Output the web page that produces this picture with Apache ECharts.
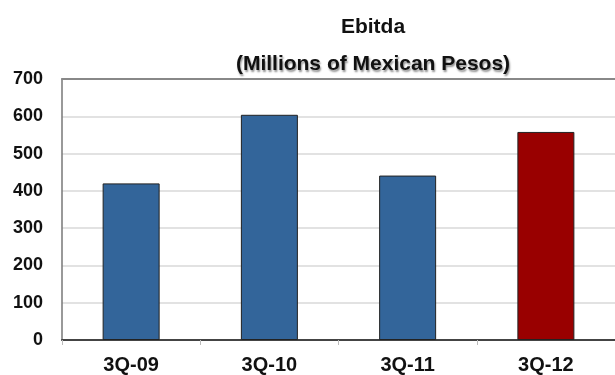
<!DOCTYPE html>
<html>
<head>
<meta charset="utf-8">
<script src="https://cdn.jsdelivr.net/npm/echarts@6/dist/echarts.min.js"></script>
<style>
  html, body { margin: 0; padding: 0; background: #fff; }
  #main { width: 615px; height: 375px; }
</style>
</head>
<body>
<div id="main"></div>
<script>
// data
var quarters = ['3Q-09', '3Q-10', '3Q-11', '3Q-12'];
var ebitda = [420, 604, 441, 558];
var barColors = ['#33659a', '#33659a', '#33659a', '#990000'];
var yTicks = [0, 100, 200, 300, 400, 500, 600, 700];

var myChart = echarts.init(document.getElementById('main'));
var font = 'Liberation Sans, Arial, sans-serif';

myChart.setOption({
  animation: false,
  backgroundColor: '#fff',
  title: [{
    text: 'Ebitda',
    left: 368, top: 12,
    textAlign: 'center',
    textStyle: { fontFamily: font, fontSize: 21, fontWeight: 'bold', color: '#111' }
  }, {
    text: '(Millions of Mexican Pesos)',
    left: 368, top: 49,
    textAlign: 'center',
    textStyle: {
      fontFamily: font, fontSize: 21, fontWeight: 'bold', color: '#111',
      textShadowColor: 'rgba(0,0,0,0.45)', textShadowBlur: 2, textShadowOffsetX: 1, textShadowOffsetY: 2
    }
  }],
  grid: { left: 62, right: -5, top: 79, bottom: 34 },
  xAxis: [{
    type: 'category',
    data: quarters,
    axisLine: { lineStyle: { color: '#444', width: 2 } },
    axisTick: { show: true, length: 5, lineStyle: { color: '#bbb' } },
    axisLabel: { margin: 15, fontFamily: font, fontSize: 20, fontWeight: 'bold', color: '#111' }
  }, {
    // top border of the plot
    type: 'category',
    position: 'top',
    data: quarters,
    axisLine: { lineStyle: { color: '#888', width: 2 } },
    axisTick: { show: false },
    axisLabel: { show: false }
  }],
  yAxis: {
    type: 'value',
    min: yTicks[0],
    max: yTicks[yTicks.length - 1],
    interval: 100,
    axisLine: { show: true, lineStyle: { color: '#777', width: 1.5 } },
    axisTick: { show: false },
    axisLabel: { margin: 19, fontFamily: font, fontSize: 18, fontWeight: 'bold', color: '#111' },
    splitLine: { lineStyle: { color: '#d8d8d8', width: 1.5 } }
  },
  series: [{
    name: 'Ebitda',
    type: 'bar',
    barWidth: 57,
    data: ebitda.map(function (v, i) {
      return { value: v, itemStyle: { color: barColors[i] } };
    }),
    itemStyle: { borderColor: '#222', borderWidth: 1 }
  }]
});
</script>
</body>
</html>
